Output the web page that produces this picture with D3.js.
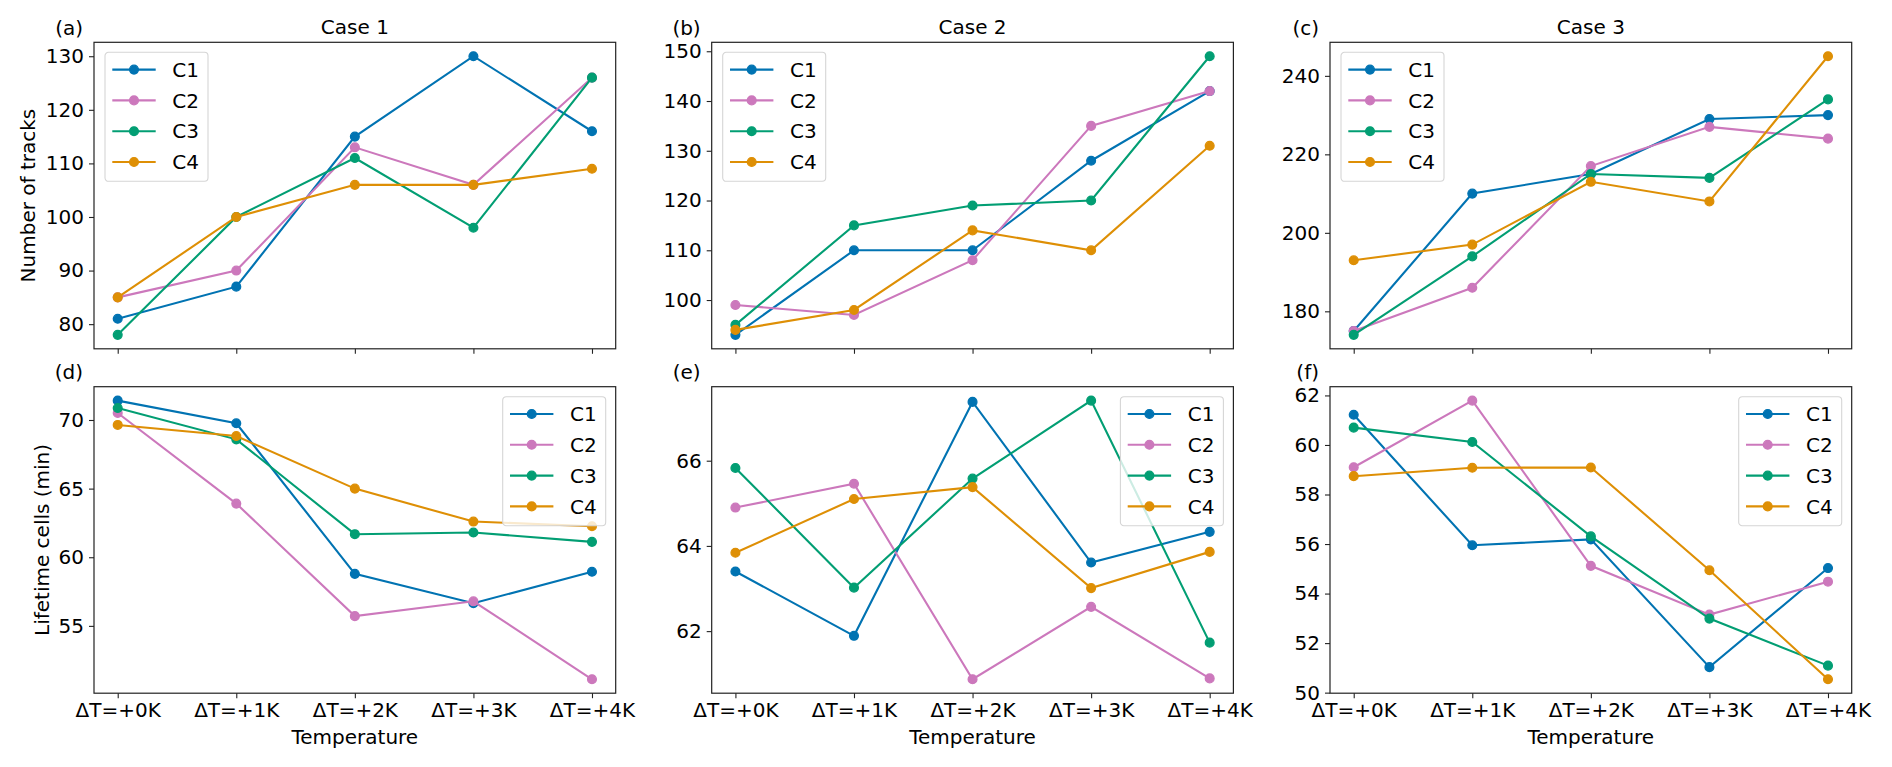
<!DOCTYPE html>
<html>
<head>
<meta charset="utf-8">
<script src="https://cdn.jsdelivr.net/npm/d3@7"></script>
<style>
  html, body { margin: 0; padding: 0; background: #fff; }
  text { font-family: "DejaVu Sans", sans-serif; fill: #000; }
</style>
</head>
<body>
<div id="chart"></div>
<script>
// categories and series
const xLabels = ['ΔT=+0K', 'ΔT=+1K', 'ΔT=+2K', 'ΔT=+3K', 'ΔT=+4K'];
const seriesNames = ['C1', 'C2', 'C3', 'C4'];
const caseTitles = ['Case 1', 'Case 2', 'Case 3'];
const panelLetters = ['(a)', '(b)', '(c)', '(d)', '(e)', '(f)'];

// number of tracks, one row per series C1..C4
const tracksCase1 = [
  [81, 87, 115, 130, 116],
  [85, 90, 113, 106, 126],
  [78, 100, 111, 98, 126],
  [85, 100, 106, 106, 109]
];
const tracksCase2 = [
  [93, 110, 110, 128, 142],
  [99, 97, 108, 135, 142],
  [95, 115, 119, 120, 149],
  [94, 98, 114, 110, 131]
];
const tracksCase3 = [
  [175, 210, 215, 229, 230],
  [175, 186, 217, 227, 224],
  [174, 194, 215, 214, 234],
  [193, 197, 213, 208, 245]
];

// lifetime of cells (min)
const lifetimeCase1 = [
  [71.41, 69.76, 58.79, 56.65, 58.94],
  [70.51, 63.91, 55.71, 56.79, 51.11],
  [70.87, 68.59, 61.68, 61.80, 61.12],
  [69.64, 68.83, 65.00, 62.60, 62.26]
];
const lifetimeCase2 = [
  [63.40, 61.89, 67.38, 63.61, 64.33],
  [64.90, 65.46, 60.87, 62.57, 60.89],
  [65.83, 63.02, 65.58, 67.41, 61.73],
  [63.84, 65.10, 65.38, 63.01, 63.86]
];
const lifetimeCase3 = [
  [61.22, 55.95, 56.19, 51.03, 55.03],
  [59.10, 61.79, 55.12, 53.15, 54.48],
  [60.70, 60.12, 56.31, 52.99, 51.09],
  [58.74, 59.08, 59.09, 54.94, 50.54]
];

// y tick values per panel
const ticksA = [80, 90, 100, 110, 120, 130];
const ticksB = [100, 110, 120, 130, 140, 150];
const ticksC = [180, 200, 220, 240];
const ticksD = [55, 60, 65, 70];
const ticksE = [62, 64, 66];
const ticksF = [50, 52, 54, 56, 58, 60, 62];

const colors = ['#0173b2', '#cc78bc', '#029e73', '#de8f05'];

const W = 1892, H = 767;
const lefts = [94, 711.7, 1330], tops = [42.3, 386.7];
const pw = 521.7, ph = 306.5;

const panels = [
  { data: tracksCase1, ticks: ticksA, col: 0, row: 0, legend: 'left' },
  { data: tracksCase2, ticks: ticksB, col: 1, row: 0, legend: 'left' },
  { data: tracksCase3, ticks: ticksC, col: 2, row: 0, legend: 'left' },
  { data: lifetimeCase1, ticks: ticksD, col: 0, row: 1, legend: 'right' },
  { data: lifetimeCase2, ticks: ticksE, col: 1, row: 1, legend: 'right' },
  { data: lifetimeCase3, ticks: ticksF, col: 2, row: 1, legend: 'right' }
];

const svg = d3.select('#chart').append('svg')
  .attr('width', W).attr('height', H)
  .style('display', 'block');

svg.append('rect').attr('width', W).attr('height', H).attr('fill', '#fff');

panels.forEach((p, i) => {
  const x0 = lefts[p.col], y0 = tops[p.row];
  const g = svg.append('g');

  const xScale = d3.scaleLinear().domain([-0.2, 4.2]).range([x0, x0 + pw]);
  const [mn, mx] = d3.extent(p.data.flat());
  const pad = (mx - mn) * 0.05;
  const yScale = d3.scaleLinear().domain([mn - pad, mx + pad]).range([y0 + ph, y0]);

  // y axis
  const yAxis = d3.axisLeft(yScale).tickValues(p.ticks).tickSize(5).tickPadding(5)
    .tickFormat(d3.format('d'));
  const ya = g.append('g').attr('transform', `translate(${x0},0)`).call(yAxis);
  ya.select('.domain').remove();
  ya.selectAll('line').attr('stroke', '#222').attr('stroke-width', 1.1);
  ya.selectAll('text').style('font-size', '20px').attr('fill', '#000');

  // x axis
  const xAxis = d3.axisBottom(xScale).tickValues(d3.range(5)).tickSize(5).tickPadding(5)
    .tickFormat((d) => p.row === 1 ? xLabels[d] : '');
  const xa = g.append('g').attr('transform', `translate(0,${y0 + ph})`).call(xAxis);
  xa.select('.domain').remove();
  xa.selectAll('line').attr('stroke', '#222').attr('stroke-width', 1.1);
  xa.selectAll('text').style('font-size', '20px').attr('fill', '#000');

  // series
  const line = d3.line().x((d, j) => xScale(j)).y((d) => yScale(d));
  p.data.forEach((vals, s) => {
    g.append('path').datum(vals)
      .attr('d', line)
      .attr('fill', 'none')
      .attr('stroke', colors[s])
      .attr('stroke-width', 2.1);
    g.append('g').selectAll('circle').data(vals).join('circle')
      .attr('cx', (d, j) => xScale(j))
      .attr('cy', (d) => yScale(d))
      .attr('r', 4.4)
      .attr('fill', colors[s])
      .attr('stroke', colors[s])
      .attr('stroke-width', 1.3);
  });

  // frame
  g.append('rect')
    .attr('x', x0).attr('y', y0).attr('width', pw).attr('height', ph)
    .attr('fill', 'none').attr('stroke', '#222').attr('stroke-width', 1.2);

  // legend
  const lw = 103, lh = 129;
  const lx = p.legend === 'left' ? x0 + 11 : x0 + pw - 10 - lw;
  const ly = y0 + 10;
  const lg = g.append('g').attr('transform', `translate(${lx},${ly})`);
  lg.append('rect')
    .attr('width', lw).attr('height', lh).attr('rx', 3.5)
    .attr('fill', '#fff').attr('fill-opacity', 0.8)
    .attr('stroke', '#d5d5d5').attr('stroke-width', 1.1);
  seriesNames.forEach((name, s) => {
    const cy = 17.3 + s * 30.8;
    lg.append('line').attr('x1', 7.3).attr('x2', 50.7).attr('y1', cy).attr('y2', cy)
      .attr('stroke', colors[s]).attr('stroke-width', 2.1);
    lg.append('circle').attr('cx', 29).attr('cy', cy).attr('r', 4.4)
      .attr('fill', colors[s]).attr('stroke', colors[s]).attr('stroke-width', 1.3);
    lg.append('text').attr('x', 67.3).attr('y', cy + 7.3)
      .style('font-size', '20px').text(name);
  });

  // panel letter
  g.append('text')
    .attr('x', x0 - 11).attr('y', y0 - 7.5)
    .attr('text-anchor', 'end')
    .style('font-size', '20px')
    .text(panelLetters[i]);

  if (p.row === 0) {
    g.append('text')
      .attr('x', x0 + pw / 2).attr('y', y0 - 8)
      .attr('text-anchor', 'middle')
      .style('font-size', '20px')
      .text(caseTitles[p.col]);
  } else {
    g.append('text')
      .attr('x', x0 + pw / 2).attr('y', y0 + ph + 50.6)
      .attr('text-anchor', 'middle')
      .style('font-size', '20px')
      .text('Temperature');
  }
});

// y axis labels
svg.append('text')
  .attr('transform', `translate(${28 + 7},${tops[0] + ph / 2}) rotate(-90)`)
  .attr('text-anchor', 'middle')
  .style('font-size', '20px')
  .text('Number of tracks');

svg.append('text')
  .attr('transform', `translate(${41.7 + 7},${tops[1] + ph / 2}) rotate(-90)`)
  .attr('text-anchor', 'middle')
  .style('font-size', '20px')
  .text('Lifetime cells (min)');
</script>
</body>
</html>
